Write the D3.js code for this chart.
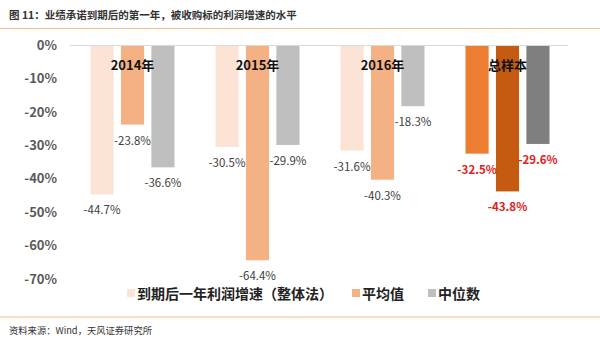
<!DOCTYPE html>
<html><head><meta charset="utf-8">
<script src="https://cdn.jsdelivr.net/npm/d3@7"></script>
<style>body{margin:0;background:#fff}svg{display:block}</style>
</head><body>
<script>
const categories = ["2014年","2015年","2016年","总样本"];
const seriesNames = ["到期后一年利润增速（整体法）","平均值","中位数"];
const overall = [-44.7,-30.5,-31.6,-32.5];
const mean = [-23.8,-64.4,-40.3,-43.8];
const median = [-36.6,-29.9,-18.3,-29.6];
const yTicks = [0,-10,-20,-30,-40,-50,-60,-70];
const colors = ["#fbe4d5","#f4b183","#bfbfbf"];
const totalColors = ["#ed7d31","#c55a11","#7f7f7f"];

const W=600,H=342;
const svg=d3.select("body").append("svg").attr("width",W).attr("height",H);
const font="'Noto Sans CJK SC','Microsoft YaHei',sans-serif";

svg.append("text").attr("x",9).attr("y",19).attr("font-family",font).attr("font-size",10.5).attr("font-weight","bold").attr("fill","#333")
  .text("图 11：业绩承诺到期后的第一年，被收购标的利润增速的水平");
svg.append("line").attr("x1",0).attr("x2",W).attr("y1",28.5).attr("y2",28.5).attr("stroke","#f4c28f").attr("stroke-width",1.2);
svg.append("line").attr("x1",0).attr("x2",W).attr("y1",317).attr("y2",317).attr("stroke","#f4c28f").attr("stroke-width",1.2);
svg.append("text").attr("x",9).attr("y",334).attr("font-family",font).attr("font-size",9.3).attr("fill","#333")
  .text("资料来源：Wind，天风证券研究所");

const y=d3.scaleLinear().domain([0,-70]).range([45,279]);
const x=d3.scaleBand().domain(categories).range([70,570]);
const x1=d3.scaleBand().domain([0,1,2]).range([0,84]).paddingInner(0.24);

const yAxis=d3.axisLeft(y).tickValues(yTicks).tickFormat(d=>d+"%").tickSize(0).tickPadding(13);
const ga=svg.append("g").attr("transform","translate(70,0)").call(yAxis);
ga.select(".domain").remove();
ga.selectAll("text").attr("font-family",font).attr("font-size",13).attr("font-weight","bold").attr("fill","#595959");

const data=categories.map((c,i)=>({c,i,vals:[overall[i],mean[i],median[i]]}));
const g=svg.append("g");
data.forEach(d=>{
  const off=x(d.c)+(x.bandwidth()-84)/2;
  d.vals.forEach((v,k)=>{
    const bx=off+x1(k);
    g.append("rect").attr("x",bx).attr("y",y(0)).attr("width",x1.bandwidth()).attr("height",y(v)-y(0))
      .attr("fill",d.i===3?totalColors[k]:colors[k]);
  });
});
svg.append("line").attr("x1",70).attr("x2",568).attr("y1",y(0)+0.5).attr("y2",y(0)+0.5).attr("stroke","#d9d9d9").attr("stroke-width",1);

data.forEach(d=>{
  svg.append("text").attr("x",x(d.c)+x.bandwidth()/2).attr("y",70).attr("text-anchor","middle")
    .attr("font-family",font).attr("font-size",13).attr("font-weight","bold").attr("fill","#111").text(d.c);
});
data.forEach(d=>{
  const off=x(d.c)+(x.bandwidth()-84)/2;
  d.vals.forEach((v,k)=>{
    const cx=off+x1(k)+x1.bandwidth()/2;
    svg.append("text").attr("x",cx).attr("y",y(v)+20).attr("text-anchor","middle")
      .attr("font-family",font).attr("font-size",11.5).attr("font-weight",d.i===3?"bold":"normal")
      .attr("fill",d.i===3?"#e02020":"#404040").text(v.toFixed(1)+"%");
  });
});

const legX=[127,352,428];
seriesNames.forEach((n,k)=>{
  svg.append("rect").attr("x",legX[k]).attr("y",289).attr("width",8).attr("height",8).attr("fill",colors[k]);
  svg.append("text").attr("x",legX[k]+10).attr("y",298.5).attr("font-family",font).attr("font-size",14)
    .attr("font-weight","bold").attr("fill","#222").text(n);
});
</script>
</body></html>
